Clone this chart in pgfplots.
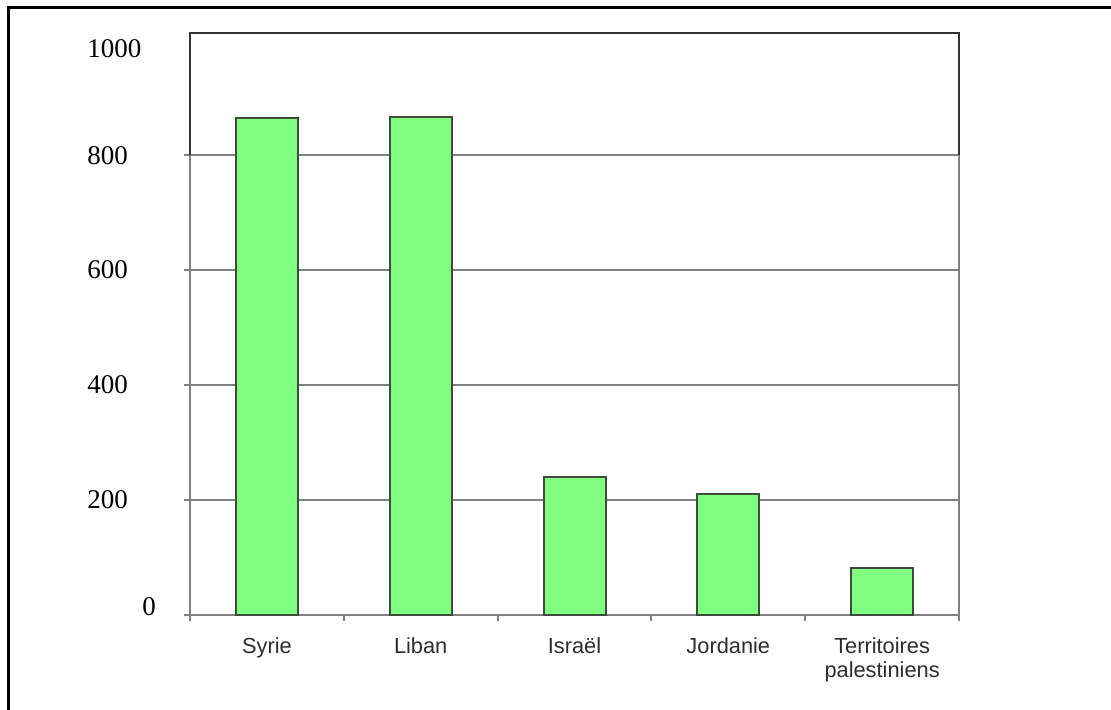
\documentclass[border=0pt]{standalone}
\usepackage{fontspec}
\setmainfont{Liberation Serif}
\newfontfamily\arial{Liberation Sans}
\usepackage{pgfplots}
\pgfplotsset{compat=1.18}
\definecolor{barfill}{RGB}{128,255,128}
\definecolor{baredge}{RGB}{60,75,60}
\definecolor{gridgray}{RGB}{128,128,128}
\definecolor{labelgray}{RGB}{45,45,45}
\begin{document}
\begin{tikzpicture}
\path[use as bounding box] (0,0) rectangle (555.5pt,355pt);
\draw[line width=1.5pt] (4pt,0) -- (4pt,351.25pt) -- (555.5pt,351.25pt);
\begin{axis}[
  at={(95pt,47.5pt)}, anchor=south west,
  scale only axis, width=384.5pt, height=291pt,
  xmin=-0.5, xmax=4.5, ymin=0, ymax=1012.2,
  ybar, bar width=31pt,
  axis line style={gridgray, line width=1pt},
  tick style={gridgray, line width=1pt},
  tick align=outside, tick pos=left,
  major tick length=3pt,
  xtick={-0.5,0.5,1.5,2.5,3.5,4.5},
  xticklabels={},
  extra x ticks={0,1,2,3,4},
  extra x tick labels={Syrie, Liban, Israël, Jordanie, Territoires\\palestiniens},
  extra x tick style={tick style={draw=none}, xticklabel style={font=\arial\fontsize{10.9pt}{12pt}\selectfont, text=labelgray, align=center, yshift=-5pt}},
  ytick={0,200,400,600,800},
  yticklabels={\raisebox{4pt}{\hspace*{27.5pt}0},200,400,600,800},
  extra y ticks={1000},
  extra y tick labels={\raisebox{-4.5pt}{1000}},
  extra y tick style={grid=none, tick style={draw=none}},
  yticklabel style={anchor=base west, inner sep=0pt, xshift=-48.5pt, yshift=-4.5pt, font=\fontsize{13.5pt}{16pt}\selectfont},
  ymajorgrids, grid style={gridgray, line width=1pt},
  clip=false,
]
\addplot[fill=barfill, draw=baredge, line width=1pt] coordinates {(0,864) (1,866) (2,240) (3,210) (4,82)};
\draw[black!80, line width=1pt] (axis cs:-0.5,800) -- (axis cs:-0.5,1012.2) -- (axis cs:4.5,1012.2) -- (axis cs:4.5,800);
\end{axis}
\end{tikzpicture}
\end{document}
